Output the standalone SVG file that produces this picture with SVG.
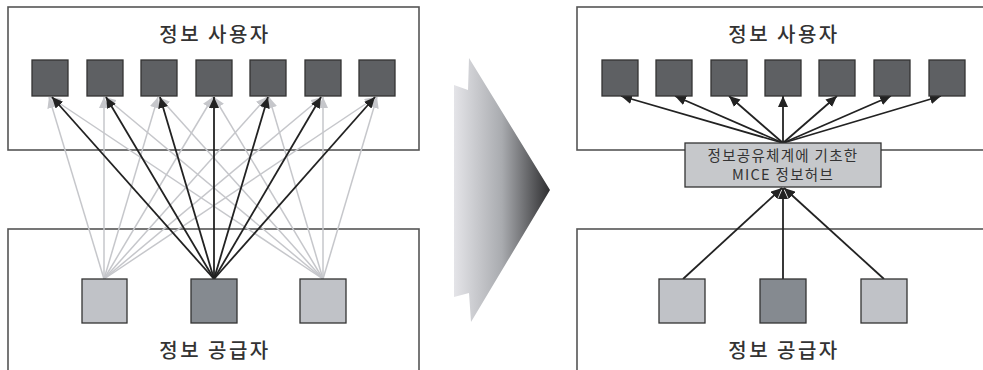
<svg xmlns="http://www.w3.org/2000/svg" width="983" height="370" viewBox="0 0 983 370">
<defs>
<marker id="ab" markerUnits="userSpaceOnUse" markerWidth="11" markerHeight="10" refX="11" refY="5" orient="auto"><path d="M0,0 L11,5 L0,10 z" fill="#222"/></marker>
<marker id="ag" markerUnits="userSpaceOnUse" markerWidth="11" markerHeight="10" refX="11" refY="5" orient="auto"><path d="M0,0 L11,5 L0,10 z" fill="#c6c7cb"/></marker>
<linearGradient id="bg" x1="454" y1="0" x2="550" y2="0" gradientUnits="userSpaceOnUse">
<stop offset="0" stop-color="#e4e4e8"/><stop offset="0.5" stop-color="#a9abaf"/><stop offset="1" stop-color="#2e2e30"/>
</linearGradient>
</defs>
<style>
.frame{fill:#fff;stroke:#555;stroke-width:1.6}
.user{fill:#5e6063;stroke:#333;stroke-width:1.3}
.src{fill:#c0c2c7;stroke:#333;stroke-width:1.3}
.srcd{fill:#858a90;stroke:#333;stroke-width:1.3}
.hub{fill:#c6c8cb;stroke:#333;stroke-width:1.3}
.t{font-family:"Noto Sans CJK KR","Noto Sans",sans-serif;fill:#333;text-anchor:middle}
.title{font-size:20px;letter-spacing:2.5px;font-weight:500}
.small{font-size:14.5px;letter-spacing:1.3px}
.k{stroke:#222;stroke-width:1.8;fill:none;marker-end:url(#ab)}
.g{stroke:#c6c7cb;stroke-width:1.5;fill:none;marker-end:url(#ag)}
</style>
<rect width="983" height="370" fill="#fff"/>
<g id="left-users-box"><rect class="frame" x="8" y="7" width="411" height="143"/><text class="t title" x="215" y="42">정보 사용자</text></g>
<g id="left-providers-box"><rect class="frame" x="8" y="229" width="411" height="150"/><text class="t title" x="215" y="358">정보 공급자</text></g>
<g id="right-users-box"><rect class="frame" x="577" y="7" width="420" height="143"/><text class="t title" x="784" y="42">정보 사용자</text></g>
<g id="right-providers-box"><rect class="frame" x="577" y="229" width="420" height="150"/><text class="t title" x="784" y="358">정보 공급자</text></g>
<g id="connectors">
<path class="g" d="M104,279 L49,97"/><path class="g" d="M104,279 L104,97"/><path class="g" d="M104,279 L158,97"/><path class="g" d="M104,279 L213,97"/><path class="g" d="M104,279 L267,97"/><path class="g" d="M104,279 L322,97"/><path class="g" d="M104,279 L376,97"/>
<path class="g" d="M323,279 L50,97"/><path class="g" d="M323,279 L105,97"/><path class="g" d="M323,279 L159,97"/><path class="g" d="M323,279 L214,97"/><path class="g" d="M323,279 L269,97"/><path class="g" d="M323,279 L323,97"/><path class="g" d="M323,279 L377,97"/>
<path class="k" d="M214,279 L52,97"/><path class="k" d="M214,279 L106,97"/><path class="k" d="M214,279 L160,97"/><path class="k" d="M214,279 L214,97"/><path class="k" d="M214,279 L268,97"/><path class="k" d="M214,279 L321,97"/><path class="k" d="M214,279 L375,97"/>
<path class="k" d="M783,143 L621,96"/><path class="k" d="M783,143 L675,96"/><path class="k" d="M783,143 L729,96"/><path class="k" d="M783,143 L783,96"/><path class="k" d="M783,143 L837,96"/><path class="k" d="M783,143 L891,96"/><path class="k" d="M783,143 L941,96"/>
<path class="k" d="M683,279 L782,188"/><path class="k" d="M783,279 L783,188"/><path class="k" d="M884,279 L784,188"/>
</g>
<g id="left-users">
<rect class="user" x="32" y="60" width="36" height="36"/><rect class="user" x="87" y="60" width="36" height="36"/><rect class="user" x="141" y="60" width="36" height="36"/><rect class="user" x="196" y="60" width="36" height="36"/><rect class="user" x="250" y="60" width="36" height="36"/><rect class="user" x="305" y="60" width="36" height="36"/><rect class="user" x="359" y="60" width="36" height="36"/>
</g>
<g id="left-providers">
<rect class="src" x="82" y="279" width="45" height="44"/><rect class="srcd" x="191" y="279" width="46" height="44"/><rect class="src" x="300" y="279" width="46" height="44"/>
</g>
<g id="right-users">
<rect class="user" x="602" y="60" width="36" height="36"/><rect class="user" x="656" y="60" width="36" height="36"/><rect class="user" x="711" y="60" width="36" height="36"/><rect class="user" x="765" y="60" width="36" height="36"/><rect class="user" x="819" y="60" width="36" height="36"/><rect class="user" x="874" y="60" width="36" height="36"/><rect class="user" x="929" y="60" width="36" height="36"/>
</g>
<g id="hub"><rect class="hub" x="685" y="143" width="196" height="44"/><text class="t small" x="783" y="161">정보공유체계에 기초한</text><text class="t small" x="783" y="180">MICE 정보허브</text></g>
<g id="right-providers">
<rect class="src" x="659" y="279" width="46" height="44"/><rect class="srcd" x="760" y="279" width="46" height="44"/><rect class="src" x="861" y="279" width="46" height="44"/>
</g>
<g id="big-arrow"><path d="M469,58 L550,190 L471,322 L469,293 L454,297 L454,85 L468,90 Z" fill="url(#bg)"/></g>
</svg>
